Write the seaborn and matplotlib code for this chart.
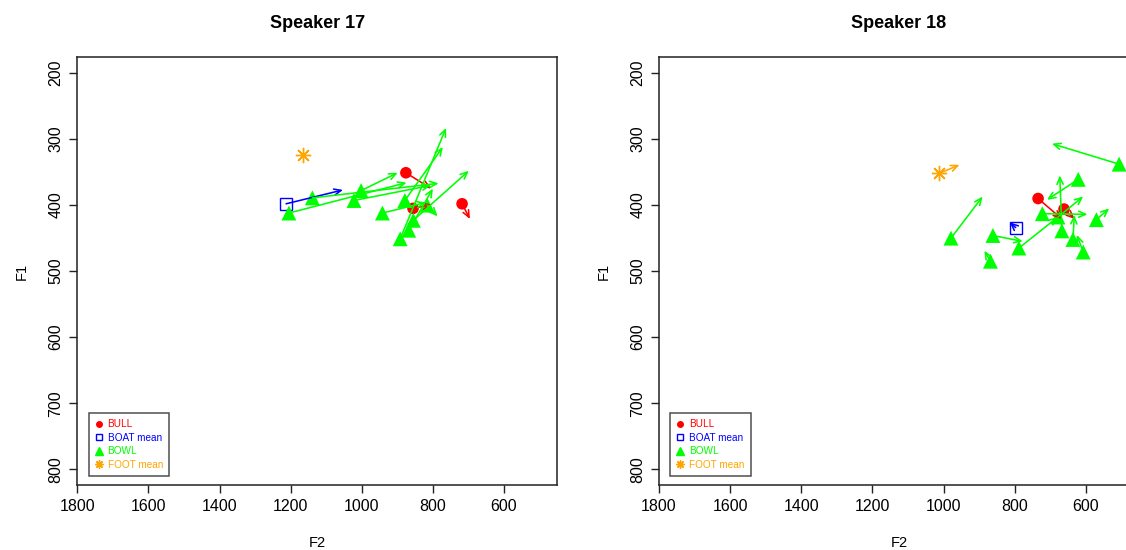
import numpy as np
import pandas as pd
import matplotlib
matplotlib.use("Agg")
import matplotlib.pyplot as plt
import seaborn as sns
from matplotlib.lines import Line2D

sns.set_style("ticks")
plt.rcParams['font.family'] = ['Liberation Sans', 'DejaVu Sans']
plt.rcParams.update({"text.color": "black", "axes.labelcolor": "black",
                     "xtick.color": "black", "ytick.color": "black"})

RED, BLUE, GREEN, ORANGE = "#FF0000", "#0000FF", "#00FF00", "#FFA500"

# ---- Speaker 17 ----
s17_bull_f2 = [876, 856, 718]
s17_bull_f1 = [351, 405, 398]
s17_bull_end_f2 = [805, 803, 696]
s17_bull_end_f1 = [375, 399, 421]

s17_boat_f2 = [1213]
s17_boat_f1 = [398]
s17_boat_end_f2 = [1053]
s17_boat_end_f1 = [377]

s17_bowl_f2 = [1205, 1139, 1002, 1022, 942, 879, 816, 855, 868, 892]
s17_bowl_f1 = [412, 389, 378, 393, 412, 393, 400, 423, 438, 451]
s17_bowl_end_f2 = [874, 784, 899, 805, 820, 772, 787, 699, 800, 763]
s17_bowl_end_f1 = [366, 367, 351, 370, 396, 312, 417, 348, 375, 283]

s17_foot_f2 = [1165]
s17_foot_f1 = [324]
s17_foot_end_f2 = [1165]
s17_foot_end_f1 = [324]

# ---- Speaker 18 ----
s18_bull_f2 = [734, 661]
s18_bull_f1 = [390, 406]
s18_bull_end_f2 = [667, 631]
s18_bull_end_f1 = [421, 421]

s18_boat_f2 = [797]
s18_boat_f1 = [434]
s18_boat_end_f2 = [814]
s18_boat_end_f1 = [426]

s18_bowl_f2 = [506, 621, 722, 667, 636, 607, 570, 788, 861, 979, 868, 678]
s18_bowl_f1 = [338, 361, 413, 439, 452, 471, 422, 465, 446, 450, 485, 418]
s18_bowl_end_f2 = [695, 709, 595, 673, 632, 625, 534, 678, 777, 890, 885, 607]
s18_bowl_end_f1 = [307, 392, 414, 355, 415, 445, 405, 418, 455, 387, 469, 387]

s18_foot_f2 = [1012]
s18_foot_f1 = [352]
s18_foot_end_f2 = [955]
s18_foot_end_f1 = [339]

speakers = {
    "Speaker 17": dict(
        bull=(s17_bull_f2, s17_bull_f1, s17_bull_end_f2, s17_bull_end_f1),
        boat=(s17_boat_f2, s17_boat_f1, s17_boat_end_f2, s17_boat_end_f1),
        bowl=(s17_bowl_f2, s17_bowl_f1, s17_bowl_end_f2, s17_bowl_end_f1),
        foot=(s17_foot_f2, s17_foot_f1, s17_foot_end_f2, s17_foot_end_f1),
    ),
    "Speaker 18": dict(
        bull=(s18_bull_f2, s18_bull_f1, s18_bull_end_f2, s18_bull_end_f1),
        boat=(s18_boat_f2, s18_boat_f1, s18_boat_end_f2, s18_boat_end_f1),
        bowl=(s18_bowl_f2, s18_bowl_f1, s18_bowl_end_f2, s18_bowl_end_f1),
        foot=(s18_foot_f2, s18_foot_f1, s18_foot_end_f2, s18_foot_end_f1),
    ),
}

styles = {
    "bull": dict(color=RED, marker="o", s=70, filled=True),
    "boat": dict(color=BLUE, marker="s", ms=8, filled=False),
    "bowl": dict(color=GREEN, marker="^", s=115, filled=True),
    "foot": dict(color=ORANGE, marker=(8, 2, 0), ms=11, filled=False),
}

x_ticks = [1800, 1600, 1400, 1200, 1000, 800, 600]
y_ticks = [200, 300, 400, 500, 600, 700, 800]

fig = plt.figure(figsize=(11.26, 5.5), dpi=100)
positions = [[0.0687, 0.118, 0.4263, 0.778], [0.5853, 0.118, 0.4263, 0.778]]

for (title, groups), pos in zip(speakers.items(), positions):
    ax = fig.add_axes(pos)
    for key, (f2, f1, e2, e1) in groups.items():
        st = styles[key]
        df = pd.DataFrame({"F2": f2, "F1": f1})
        if st["filled"]:
            sns.scatterplot(data=df, x="F2", y="F1", ax=ax, marker=st["marker"],
                            s=st["s"], color=st["color"], edgecolor="none", zorder=3)
        else:
            ax.plot(df["F2"], df["F1"], ls="none", marker=st["marker"], ms=st["ms"],
                    mfc="none", mec=st["color"], mew=1.0, zorder=3)
        for a, b, c, d in zip(f2, f1, e2, e1):
            if a == c and b == d:
                continue
            ax.annotate("", xy=(c, d), xytext=(a, b),
                        arrowprops=dict(arrowstyle="->,head_length=0.5,head_width=0.22",
                                        color=st["color"], lw=1.15,
                                        shrinkA=0, shrinkB=0, mutation_scale=10),
                        zorder=4)

    ax.set_xlim(1800, 450)
    ax.set_ylim(824, 176)
    ax.set_xticks(x_ticks)
    ax.set_xticklabels([str(v) for v in x_ticks], fontsize=11.5)
    ax.set_yticks(y_ticks)
    ax.set_yticklabels([str(v) for v in y_ticks], fontsize=11.5, rotation=90, va="center")
    ax.tick_params(length=6, width=1, color="#222222", pad=4)
    for sp in ax.spines.values():
        sp.set_linewidth(1.1)
        sp.set_color("#222222")
    ax.set_xlabel("F2", fontsize=10.5, labelpad=16)
    ax.set_ylabel("F1", fontsize=10.5, labelpad=14)
    ax.set_title(title, fontsize=13, fontweight="bold", pad=21)

    handles = [
        Line2D([], [], ls="none", marker="o", ms=4, color=RED),
        Line2D([], [], ls="none", marker="s", ms=4.5, mfc="none", mec=BLUE, mew=1),
        Line2D([], [], ls="none", marker="^", ms=6, color=GREEN),
        Line2D([], [], ls="none", marker=(8, 2, 0), ms=6, mec=ORANGE, mew=1),
    ]
    leg = ax.legend(handles, ["BULL", "BOAT mean", "BOWL", "FOOT mean"],
                    loc="lower left", bbox_to_anchor=(0.017, 0.015),
                    fontsize=7.2, labelcolor=[RED, BLUE, GREEN, ORANGE],
                    frameon=True, fancybox=False, edgecolor="#222222",
                    handlelength=0.8, handletextpad=0.5, borderpad=0.6,
                    labelspacing=0.35, borderaxespad=0.3)
    leg.get_frame().set_linewidth(1.1)

fig.savefig("out.png", dpi=100)
